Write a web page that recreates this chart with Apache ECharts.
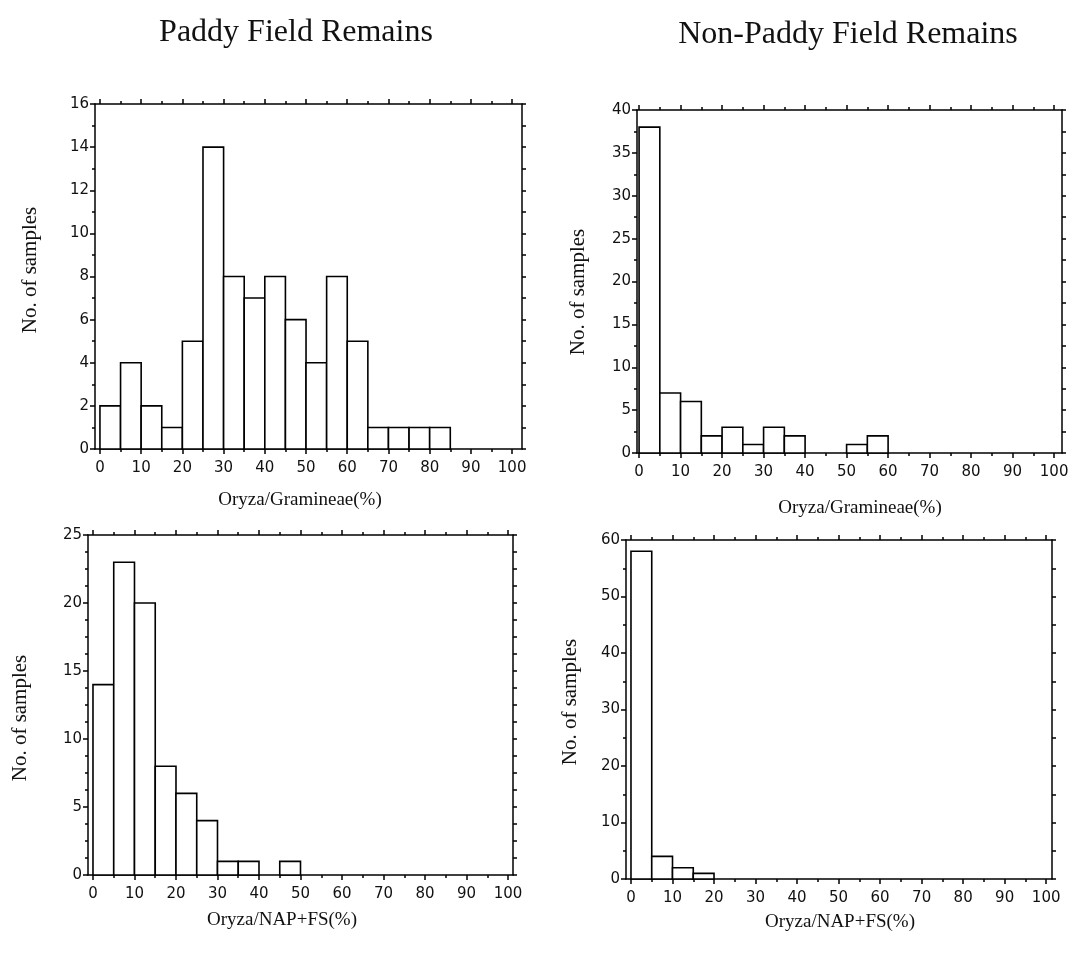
<!DOCTYPE html>
<html>
<head>
<meta charset="utf-8">
<script src="https://cdn.jsdelivr.net/npm/echarts@6/dist/echarts.min.js"></script>
<style>
html,body{margin:0;padding:0;background:#fff;}
#chart{width:1076px;height:954px;}
</style>
</head>
<body>
<div id="chart"></div>
<script>
// ---- data ----
const binStarts = [0,5,10,15,20,25,30,35,40,45,50,55,60,65,70,75,80,85,90,95];
const binWidth = 5;
const paddyGramineae    = [2,4,2,1,5,14,8,7,8,6,4,8,5,1,1,1,1,0,0,0];
const nonPaddyGramineae = [38,7,6,2,3,1,3,2,0,0,1,2,0,0,0,0,0,0,0,0];
const paddyNAP          = [14,23,20,8,6,4,1,1,0,1,0,0,0,0,0,0,0,0,0,0];
const nonPaddyNAP       = [58,4,2,1,0,0,0,0,0,0,0,0,0,0,0,0,0,0,0,0];
const xLabelTicks = [0,10,20,30,40,50,60,70,80,90,100];
const xMinorTicks = [0,5,10,15,20,25,30,35,40,45,50,55,60,65,70,75,80,85,90,95,100];
const panelTitles = ['Paddy Field Remains','Non-Paddy Field Remains'];
const xTitles = ['Oryza/Gramineae(%)','Oryza/Gramineae(%)','Oryza/NAP+FS(%)','Oryza/NAP+FS(%)'];
const yTitle = 'No. of samples';

// ---- layout ----
const panels = [
  {data: paddyGramineae,    grid:{left:95, top:104, width:427, height:345}, xmin:-1.2, xmax:102.4, ymax:16, yInt:2,  ySplit:2, rInt:1,    xt:[300,500], yt:[30,270]},
  {data: nonPaddyGramineae, grid:{left:637,top:110, width:425, height:343}, xmin:-0.5, xmax:101.9, ymax:40, yInt:5,  ySplit:2, rInt:2.5,  xt:[860,508], yt:[578,292]},
  {data: paddyNAP,          grid:{left:88, top:535, width:425, height:340}, xmin:-1.2, xmax:101.2, ymax:25, yInt:5,  ySplit:4, rInt:1.25, xt:[282,920], yt:[20,718]},
  {data: nonPaddyNAP,       grid:{left:626,top:540, width:426, height:339}, xmin:-1.2, xmax:101.4, ymax:60, yInt:10, ySplit:2, rInt:5,    xt:[840,922], yt:[570,702]}
];

const LINE = {color:'#000', width:1.5};
const tickFont = {fontFamily:'DejaVu Sans', fontSize:15, color:'#111'};

const grids = [], xAxes = [], yAxes = [], series = [], graphics = [];
panels.forEach((p, i) => {
  grids.push(Object.assign({show:false, containLabel:false}, p.grid));
  const base = {gridIndex:i, type:'value', min:p.xmin, max:p.xmax, splitLine:{show:false}};
  xAxes.push(Object.assign({}, base, {position:'bottom',
    axisLine:{show:true, onZero:false, lineStyle:LINE},
    axisTick:{show:true, customValues:xLabelTicks, length:5, lineStyle:LINE},
    axisLabel:Object.assign({show:true, customValues:xLabelTicks, margin:12}, tickFont)}));
  xAxes.push(Object.assign({}, base, {position:'bottom',
    axisLine:{show:false, onZero:false},
    axisTick:{show:true, customValues:xMinorTicks, length:3, lineStyle:LINE},
    axisLabel:{show:false}}));
  xAxes.push(Object.assign({}, base, {position:'top',
    axisLine:{show:true, onZero:false, lineStyle:LINE},
    axisTick:{show:true, customValues:xLabelTicks, length:5, lineStyle:LINE},
    axisLabel:{show:false}}));
  xAxes.push(Object.assign({}, base, {position:'top',
    axisLine:{show:false, onZero:false},
    axisTick:{show:true, customValues:xMinorTicks, length:3, lineStyle:LINE},
    axisLabel:{show:false}}));
  yAxes.push({gridIndex:i, type:'value', position:'left', min:0, max:p.ymax, interval:p.yInt,
    splitLine:{show:false},
    axisLine:{show:true, onZero:false, lineStyle:LINE},
    axisTick:{show:true, length:5, lineStyle:LINE},
    minorTick:{show:true, splitNumber:p.ySplit, length:3, lineStyle:LINE},
    axisLabel:Object.assign({show:true, margin:6}, tickFont)});
  yAxes.push({gridIndex:i, type:'value', position:'right', min:0, max:p.ymax, interval:p.rInt,
    splitLine:{show:false},
    axisLine:{show:true, onZero:false, lineStyle:LINE},
    axisTick:{show:true, length:4, lineStyle:LINE},
    axisLabel:{show:false}});
  const bars = [];
  binStarts.forEach((s, k) => { if (p.data[k] > 0) bars.push([s, s + binWidth, p.data[k]]); });
  series.push({type:'custom', xAxisIndex:i*4, yAxisIndex:i*2, data:bars, silent:true,
    renderItem:function(params, api){
      const a = api.coord([api.value(0), api.value(2)]);
      const b = api.coord([api.value(1), 0]);
      return {type:'rect', shape:{x:a[0], y:a[1], width:b[0]-a[0], height:b[1]-a[1]},
        style:{fill:'#fff', stroke:'#000', lineWidth:1.6}};
    }});
  graphics.push({type:'text', x:p.xt[0], y:p.xt[1], style:{text:xTitles[i], font:'19px "Liberation Serif"', fill:'#111', align:'center', verticalAlign:'middle'}});
  graphics.push({type:'text', x:p.yt[0], y:p.yt[1], rotation:Math.PI/2, style:{text:yTitle, font:'21px "Liberation Serif"', fill:'#111', align:'center', verticalAlign:'middle'}});
});
graphics.push({type:'text', x:296, y:33, style:{text:panelTitles[0], font:'32px "Liberation Serif"', fill:'#111', align:'center', verticalAlign:'middle'}});
graphics.push({type:'text', x:848, y:35, style:{text:panelTitles[1], font:'32px "Liberation Serif"', fill:'#111', align:'center', verticalAlign:'middle'}});

const chart = echarts.init(document.getElementById('chart'), null, {renderer:'canvas'});
chart.setOption({
  animation:false,
  backgroundColor:'#fff',
  grid:grids, xAxis:xAxes, yAxis:yAxes, series:series, graphic:graphics
});
</script>
</body>
</html>
